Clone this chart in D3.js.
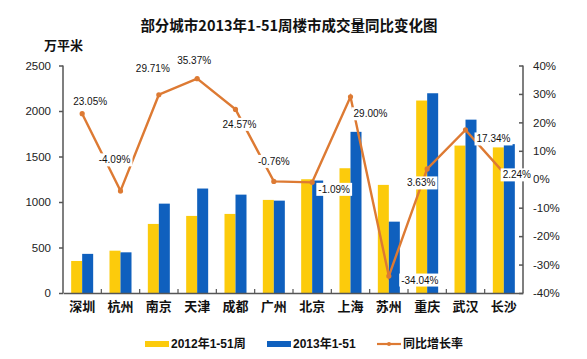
<!DOCTYPE html>
<html><head><meta charset="utf-8">
<script src="https://cdn.jsdelivr.net/npm/d3@7"></script>
<style>
html,body{margin:0;padding:0;background:#fff;}
svg{display:block;}
</style>
</head><body>
<div id="chart"></div>
<script>
const categories = ["深圳","杭州","南京","天津","成都","广州","北京","上海","苏州","重庆","武汉","长沙"];
const seriesNames = ["2012年1-51周","2013年1-51","同比增长率"];
const values2012 = [352, 465, 759, 847, 869, 1023, 1250, 1371, 1188, 2115, 1620, 1600];
const values2013 = [430, 447, 982, 1148, 1081, 1015, 1236, 1771, 784, 2195, 1905, 1636];
const growth = [23.05, -4.09, 29.71, 35.37, 24.57, -0.76, -1.09, 29.00, -34.04, 3.63, 17.34, 2.24];
const leftTicks = [0, 500, 1000, 1500, 2000, 2500];
const rightTicks = [-40, -30, -20, -10, 0, 10, 20, 30, 40];

// layout: label offsets (dx, dy) relative to each line point
const labelOffsets = [[8,-12],[-6,-31],[-6,-26],[-3,-18],[4,15],[0,-20],[22,7],[20,17],[31,4],[-6,14],[28,9],[13,2]];

const W = 587, H = 359;
const m = {left:63, right:523, top:65.5, bottom:293};
const colors = {y2012:"#FCCB0C", y2013:"#0F60BE", line:"#DD7A33", axis:"#555"};

const svg = d3.select("#chart").append("svg").attr("width", W).attr("height", H)
  .style("font-family","Arial, 'Liberation Sans', sans-serif");

const x0 = d3.scaleBand().domain(categories).range([m.left, m.right]).padding(0);
const step = x0.bandwidth();
const x1 = d3.scaleBand().domain(["a","b"]).range([step/2 - 11, step/2 + 11]).padding(0);
const yL = d3.scaleLinear().domain([0, 2500]).range([m.bottom, m.top]);
const yR = d3.scaleLinear().domain([-40, 40]).range([m.bottom, m.top]);

// title
svg.append("text").attr("x", 289).attr("y", 30.5).attr("text-anchor","middle")
  .style("font-family","'Noto Sans CJK SC', sans-serif").style("font-weight","700")
  .style("font-size","14.5px").attr("fill","#111")
  .text("部分城市2013年1-51周楼市成交量同比变化图");
svg.append("text").attr("x", 44).attr("y", 50)
  .style("font-family","'Noto Sans CJK SC', sans-serif").style("font-weight","700")
  .style("font-size","13px").attr("fill","#111").text("万平米");

// bars
const g = svg.append("g");
categories.forEach((c, i) => {
  g.append("rect").attr("x", x0(c) + x1("a")).attr("width", x1.bandwidth())
    .attr("y", yL(values2012[i])).attr("height", yL(0) - yL(values2012[i]))
    .attr("fill", colors.y2012);
  g.append("rect").attr("x", x0(c) + x1("b")).attr("width", x1.bandwidth())
    .attr("y", yL(values2013[i])).attr("height", yL(0) - yL(values2013[i]))
    .attr("fill", colors.y2013);
});

// axes
const axL = svg.append("g").attr("transform", `translate(${m.left},0)`)
  .call(d3.axisLeft(yL).tickValues(leftTicks).tickSize(4).tickPadding(8).tickFormat(d3.format("d")));
const axR = svg.append("g").attr("transform", `translate(${m.right},0)`)
  .call(d3.axisRight(yR).tickValues(rightTicks).tickSize(-4).tickPadding(10).tickFormat(d => d + "%"));
const axB = svg.append("g").attr("transform", `translate(0,${m.bottom})`)
  .call(d3.axisBottom(x0).tickSize(0).tickPadding(9));
[axL, axR].forEach(a => {
  a.select(".domain").attr("stroke", colors.axis).attr("stroke-width", 1.5);
  a.selectAll(".tick line").attr("stroke", colors.axis).attr("stroke-width", 1.5);
  a.selectAll(".tick text").style("font-size","11.5px").attr("fill","#222")
   .style("font-family","Arial, 'Liberation Sans', sans-serif");
});
axR.select(".domain").attr("d", `M0,${m.top}V${m.bottom}`);
axL.select(".domain").attr("d", `M0,${m.top}V${m.bottom}`);
axB.select(".domain").attr("stroke", colors.axis).attr("stroke-width", 1.5);
axB.selectAll(".tick text").style("font-size","13px").style("font-weight","700")
  .style("font-family","'Noto Sans CJK SC', sans-serif").attr("fill","#111");
// category boundary ticks
categories.slice(1).forEach(c => {
  axB.append("line").attr("x1", x0(c)).attr("x2", x0(c)).attr("y1", -4).attr("y2", 1)
    .attr("stroke", colors.axis).attr("stroke-width", 1.2);
});

// line
const cx = c => x0(c) + step/2;
const line = d3.line().x((d,i) => cx(categories[i])).y(d => yR(d));
svg.append("path").datum(growth).attr("d", line).attr("fill","none")
  .attr("stroke", colors.line).attr("stroke-width", 2.4);
svg.selectAll("circle.pt").data(growth).enter().append("circle")
  .attr("cx", (d,i) => cx(categories[i])).attr("cy", d => yR(d)).attr("r", 2.6)
  .attr("fill", colors.line);

// labels
growth.forEach((v, i) => {
  const px = cx(categories[i]) + labelOffsets[i][0];
  const py = yR(v) + labelOffsets[i][1];
  const t = v.toFixed(2) + "%";
  const lg = svg.append("g");
  const txt = lg.append("text").attr("x", px).attr("y", py).attr("text-anchor","middle")
    .attr("dominant-baseline","central").style("font-size","10px").attr("fill","#111").text(t);
  const bb = txt.node().getBBox();
  lg.insert("rect", "text").attr("x", bb.x - 2).attr("y", py - 6.5)
    .attr("width", bb.width + 4).attr("height", 13).attr("fill","#fff");
});

// legend
const leg = svg.append("g");
const ly = 344;
const legItems = [
  {x:145, type:"rect", color:colors.y2012, name:seriesNames[0]},
  {x:267, type:"rect", color:colors.y2013, name:seriesNames[1]},
  {x:377, type:"line", color:colors.line, name:seriesNames[2]}
];
legItems.forEach(it => {
  if (it.type === "rect") {
    leg.append("rect").attr("x", it.x).attr("y", ly - 3).attr("width", 24).attr("height", 6).attr("fill", it.color);
  } else {
    leg.append("line").attr("x1", it.x).attr("x2", it.x + 24).attr("y1", ly).attr("y2", ly)
      .attr("stroke", it.color).attr("stroke-width", 2.2);
    leg.append("circle").attr("cx", it.x + 12).attr("cy", ly).attr("r", 2).attr("fill", it.color);
  }
  leg.append("text").attr("x", it.x + 26).attr("y", ly).attr("dominant-baseline","central")
    .style("font-size","12px").style("font-weight","700")
    .style("font-family","Arial, 'Noto Sans CJK SC', sans-serif").attr("fill","#111").text(it.name);
});
</script>
</body></html>
